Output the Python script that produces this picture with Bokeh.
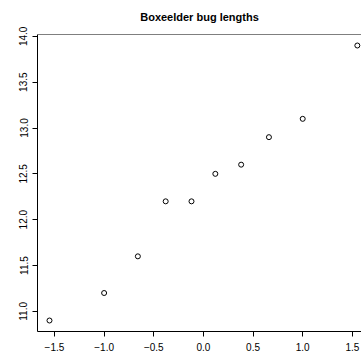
from bokeh.plotting import figure
from bokeh.models import FixedTicker, Range1d, Span
from bokeh.embed import file_html
from bokeh.resources import INLINE

# Theoretical normal quantiles (x) and bug lengths (y)
theoretical = [-1.55, -1.00, -0.66, -0.38, -0.12, 0.12, 0.38, 0.66, 1.00, 1.55]
lengths = [10.9, 11.2, 11.6, 12.2, 12.2, 12.5, 12.6, 12.9, 13.1, 13.9]

x_ticks = [-1.5, -1.0, -0.5, 0.0, 0.5, 1.0, 1.5]
x_tick_labels = ["\u22121.5", "\u22121.0", "\u22120.5", "0.0", "0.5", "1.0", "1.5"]
y_ticks = [11.0, 11.5, 12.0, 12.5, 13.0, 13.5, 14.0]
y_tick_labels = ["11.0", "11.5", "12.0", "12.5", "13.0", "13.5", "14.0"]
title_text = "Boxeelder bug lengths"

FONT = "Liberation Sans"

p = figure(width=361, height=356, output_backend="svg", toolbar_location=None,
           title=title_text,
           x_range=Range1d(-1.6708, 1.592), y_range=Range1d(10.78, 14.02),
           min_border_left=37, min_border_right=0, min_border_top=34, min_border_bottom=25)

p.scatter(theoretical, lengths, marker="circle", size=5, fill_color=None,
          line_color="black", line_width=1)

p.title.text_font = FONT
p.title.text_font_size = "11px"
p.title.text_font_style = "bold"
p.title.align = "center"
p.title.offset = 7
p.title.standoff = 20
p.title.vertical_align = "top"
p.title.text_color = "black"

p.xgrid.visible = False
p.ygrid.visible = False
p.outline_line_color = None

# top border of the plot box (right edge lies outside the window)
p.add_layout(Span(location=p.y_range.end, dimension="width",
                  line_color="black", line_width=1))

xa = p.xaxis[0]
ya = p.yaxis[0]
for ax in (xa, ya):
    ax.axis_line_color = "black"
    ax.major_tick_in = 0
    ax.major_tick_out = 5
    ax.minor_tick_line_color = None
    ax.major_tick_line_color = "black"
    ax.major_label_text_font = FONT
    ax.major_label_text_font_size = "10px"
    ax.major_label_text_color = "black"

xa.ticker = FixedTicker(ticks=x_ticks)
xa.major_label_overrides = dict(zip(x_ticks, x_tick_labels))
xa.major_label_standoff = 6
ya.ticker = FixedTicker(ticks=y_ticks)
ya.major_label_overrides = dict(zip(y_ticks, y_tick_labels))
ya.major_label_orientation = "vertical"
ya.major_label_standoff = 5

open("out.html", "w").write(file_html(p, INLINE))
